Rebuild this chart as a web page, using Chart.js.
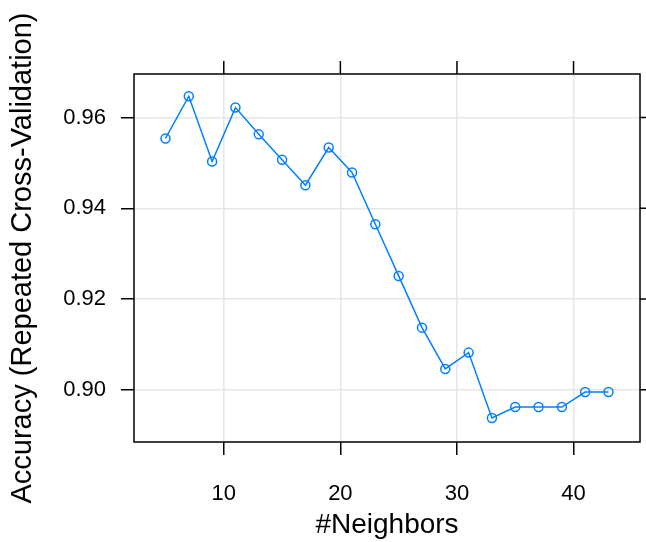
<!DOCTYPE html>
<html>
<head>
<meta charset="utf-8">
<script src="https://cdn.jsdelivr.net/npm/chart.js@4"></script>
<style>
  html, body { margin: 0; padding: 0; background: #fff; }
  #wrap { width: 646px; height: 542px; }
</style>
</head>
<body>
<div id="wrap"><canvas id="graphe"></canvas></div>
<script>
// Données (caret, k plus proches voisins)
const neighbors = [5, 7, 9, 11, 13, 15, 17, 19, 21, 23, 25, 27, 29, 31, 33, 35, 37, 39, 41, 43];
const accuracy = [0.9554, 0.9647, 0.9503, 0.9622, 0.9563, 0.9507, 0.9451, 0.9534, 0.9479, 0.9365,
                  0.9251, 0.9137, 0.9046, 0.9082, 0.8938, 0.8962, 0.8962, 0.8962, 0.8995, 0.8995];
const xTicks = [10, 20, 30, 40];
const yTicks = [0.90, 0.92, 0.94, 0.96];

const FONT = '"Liberation Sans", Arial, sans-serif';
const BLEU = '#0080ff';

// cadre du panneau + graduations en haut et à droite (style lattice)
const cadre = {
    id: 'cadre',
    afterDraw(chart) {
        const { ctx, chartArea: a, scales } = chart;
        ctx.save();
        ctx.strokeStyle = '#000';
        ctx.lineWidth = 1.5;
        ctx.strokeRect(a.left, a.top, a.right - a.left, a.bottom - a.top);
        ctx.beginPath();
        xTicks.forEach(v => {
            const px = scales.x.getPixelForValue(v);
            ctx.moveTo(px, a.top);
            ctx.lineTo(px, a.top - 13);
        });
        yTicks.forEach(v => {
            const py = scales.y.getPixelForValue(v);
            ctx.moveTo(a.right, py);
            ctx.lineTo(a.right + 13, py);
        });
        ctx.stroke();
        ctx.restore();
    },
};

new Chart(document.getElementById('graphe'), {
    type: 'line',
    data: {
        datasets: [{
            data: neighbors.map((k, i) => ({ x: k, y: accuracy[i] })),
            borderColor: BLEU,
            borderWidth: 1.5,
            pointStyle: 'circle',
            pointRadius: 4.5,
            pointBorderWidth: 1.5,
            pointBorderColor: BLEU,
            pointBackgroundColor: 'rgba(0,0,0,0)',
            tension: 0,
        }],
    },
    options: {
        responsive: true,
        maintainAspectRatio: false,
        animation: false,
        events: [],
        layout: { padding: { top: 74, right: 2, left: 0, bottom: 0 } },
        plugins: { legend: { display: false }, tooltip: { enabled: false } },
        scales: {
            x: {
                type: 'linear',
                min: 2.3,
                max: 45.7,
                afterBuildTicks: s => { s.ticks = xTicks.map(v => ({ value: v })); },
                afterFit: s => { s.height = 100; },
                grid: { color: '#e6e6e6', lineWidth: 1.5, tickColor: '#000', tickLength: 13, tickWidth: 1.5 },
                border: { display: false },
                ticks: { color: '#000', font: { family: FONT, size: 22 }, padding: 26, maxRotation: 0 },
                title: { display: true, text: '#Neighbors', color: '#000', font: { family: FONT, size: 28 }, padding: { top: 8, bottom: 0 } },
            },
            y: {
                type: 'linear',
                min: 0.8885,
                max: 0.9696,
                afterBuildTicks: s => { s.ticks = yTicks.map(v => ({ value: v })); },
                afterFit: s => { s.width = 134; },
                grid: { color: '#e6e6e6', lineWidth: 1.5, tickColor: '#000', tickLength: 13, tickWidth: 1.5 },
                border: { display: false },
                ticks: { color: '#000', font: { family: FONT, size: 22 }, padding: 15, callback: v => v.toFixed(2) },
                title: { display: true, text: 'Accuracy (Repeated Cross-Validation)', color: '#000', font: { family: FONT, size: 29 }, padding: { top: 6, bottom: 0 } },
            },
        },
    },
    plugins: [cadre],
});
</script>
</body>
</html>
